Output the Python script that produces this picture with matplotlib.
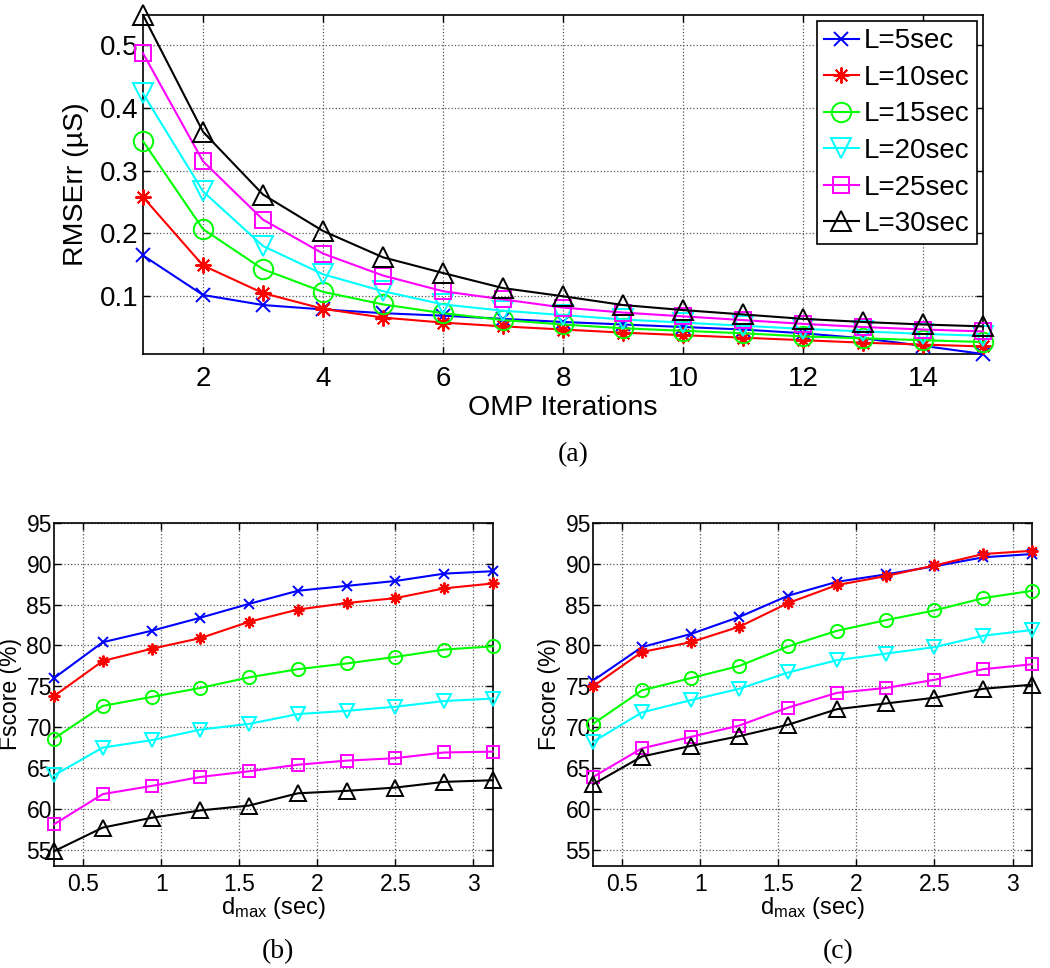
import matplotlib
matplotlib.use("Agg")
import matplotlib.pyplot as plt

plt.rcParams['font.family'] = ['Liberation Sans', 'DejaVu Sans']
plt.rcParams['mathtext.default'] = 'regular'

# ---- data ----
labels = ['L=5sec', 'L=10sec', 'L=15sec', 'L=20sec', 'L=25sec', 'L=30sec']
colors = ['#0000ff', '#ff0000', '#00ff00', '#00ffff', '#ff00ff', '#000000']
markers = ['x', (8, 2, 0), 'o', 'v', 's', '^']

omp_iter = list(range(1, 16))
rmse_l5 = [0.165, 0.102, 0.086, 0.079, 0.073, 0.069, 0.064, 0.059, 0.055, 0.051, 0.047, 0.041, 0.033, 0.021, 0.008]
rmse_l10 = [0.258, 0.149, 0.105, 0.080, 0.066, 0.058, 0.052, 0.047, 0.042, 0.038, 0.034, 0.030, 0.026, 0.023, 0.020]
rmse_l15 = [0.347, 0.207, 0.143, 0.107, 0.087, 0.073, 0.062, 0.055, 0.049, 0.045, 0.041, 0.036, 0.033, 0.030, 0.027]
rmse_l20 = [0.423, 0.267, 0.180, 0.135, 0.108, 0.087, 0.077, 0.070, 0.063, 0.058, 0.053, 0.048, 0.044, 0.040, 0.037]
rmse_l25 = [0.487, 0.315, 0.222, 0.168, 0.133, 0.108, 0.095, 0.082, 0.074, 0.068, 0.062, 0.056, 0.051, 0.047, 0.044]
rmse_l30 = [0.548, 0.362, 0.262, 0.204, 0.162, 0.137, 0.113, 0.100, 0.086, 0.078, 0.071, 0.064, 0.059, 0.055, 0.052]

dmax = [0.3125, 0.625, 0.9375, 1.25, 1.5625, 1.875, 2.1875, 2.5, 2.8125, 3.125]

fs_b_l5 = [76.0, 80.4, 81.8, 83.4, 85.1, 86.7, 87.3, 87.9, 88.8, 89.1]
fs_b_l10 = [73.8, 78.1, 79.6, 80.9, 82.9, 84.4, 85.2, 85.8, 87.0, 87.6]
fs_b_l15 = [68.6, 72.6, 73.7, 74.8, 76.1, 77.1, 77.8, 78.6, 79.5, 79.9]
fs_b_l20 = [64.1, 67.5, 68.4, 69.7, 70.4, 71.6, 72.0, 72.5, 73.2, 73.5]
fs_b_l25 = [58.1, 61.8, 62.8, 63.9, 64.6, 65.4, 65.9, 66.2, 66.9, 67.0]
fs_b_l30 = [54.8, 57.7, 58.9, 59.8, 60.4, 61.9, 62.2, 62.6, 63.3, 63.5]

fs_c_l5 = [75.7, 79.8, 81.4, 83.5, 86.1, 87.8, 88.7, 89.7, 90.8, 91.2]
fs_c_l10 = [75.0, 79.2, 80.4, 82.3, 85.2, 87.4, 88.5, 89.8, 91.2, 91.6]
fs_c_l15 = [70.4, 74.5, 76.0, 77.5, 79.9, 81.8, 83.1, 84.3, 85.8, 86.7]
fs_c_l20 = [68.2, 71.8, 73.3, 74.7, 76.7, 78.2, 79.0, 79.8, 81.2, 81.9]
fs_c_l25 = [63.9, 67.4, 68.8, 70.2, 72.4, 74.2, 74.8, 75.8, 77.1, 77.7]
fs_c_l30 = [63.0, 66.4, 67.7, 68.9, 70.3, 72.2, 72.9, 73.6, 74.7, 75.2]

rmse = [rmse_l5, rmse_l10, rmse_l15, rmse_l20, rmse_l25, rmse_l30]
fs_b = [fs_b_l5, fs_b_l10, fs_b_l15, fs_b_l20, fs_b_l25, fs_b_l30]
fs_c = [fs_c_l5, fs_c_l10, fs_c_l15, fs_c_l20, fs_c_l25, fs_c_l30]

# marker sizes per marker type (top / bottom)
ms_top = [9.5, 11.5, 14, 14, 11, 15]
ms_bot = [7, 8.5, 9.5, 10.5, 8, 12]


def style_axes(ax, fsize, xpad, ypad):
    ax.grid(True, linestyle=':', color='0.35', linewidth=0.9)
    ax.tick_params(direction='in', top=True, right=True, length=5,
                   width=1, labelsize=fsize)
    ax.tick_params(axis='x', pad=xpad)
    ax.tick_params(axis='y', pad=ypad)
    for sp in ax.spines.values():
        sp.set_linewidth(1.2)


def draw_lines(ax, x, series, sizes):
    for y, c, m, ms, lab in zip(series, colors, markers, sizes, labels):
        ax.plot(x, y, color=c, marker=m, markersize=ms, lw=1.5, mew=1.4,
                mfc='none', label=lab, clip_on=False, zorder=3)


fig = plt.figure(figsize=(10.5, 9.68), dpi=100)

# (a) RMSE vs OMP iterations
ax_a = fig.add_axes([0.1362, 0.6343, 0.8, 0.3502])
draw_lines(ax_a, omp_iter, rmse, ms_top)
ax_a.set_xlim(1, 15)
ax_a.set_ylim(min(rmse_l5), max(rmse_l30))
ax_a.set_xticks([2, 4, 6, 8, 10, 12, 14])
ax_a.set_yticks([0.1, 0.2, 0.3, 0.4, 0.5])
style_axes(ax_a, 20, 9, 3)
ax_a.set_xlabel('OMP Iterations', fontsize=20.5, labelpad=1.5)
ax_a.set_ylabel('RMSErr (\u00b5S)', fontsize=20.5, labelpad=8)
leg = ax_a.legend(loc='upper right', fontsize=20, numpoints=1, handlelength=1.26,
                  handletextpad=0.18, labelspacing=0.38, borderpad=0.25,
                  borderaxespad=0.23, fancybox=False, framealpha=1)
leg.get_frame().set_edgecolor('black')
leg.get_frame().set_linewidth(1.2)
fig.text(0.5457, 1 - 455 / 968, '(a)', family='Liberation Serif', fontsize=20,
         ha='center', va='center')

# (b) and (c) Fscore vs d_max
for left, series, tag, tx in [(0.0514, fs_b, '(b)', 278), (0.5648, fs_c, '(c)', 838)]:
    ax = fig.add_axes([left, 0.1054, 0.4181, 0.3543])
    draw_lines(ax, dmax, series, ms_bot)
    ax.set_xlim(dmax[0], dmax[-1])
    ax.set_ylim(53, 95)
    ax.set_xticks([0.5, 1, 1.5, 2, 2.5, 3])
    ax.set_xticklabels(['0.5', '1', '1.5', '2', '2.5', '3'])
    ax.set_yticks([55, 60, 65, 70, 75, 80, 85, 90, 95])
    style_axes(ax, 16.5, 5, 1.5)
    ax.set_xlabel('d$_{max}$ (sec)', fontsize=17, labelpad=-1)
    ax.set_ylabel('Fscore (%)', fontsize=16.5, labelpad=3)
    fig.text(tx / 1050, 1 - 952 / 968, tag, family='Liberation Serif', fontsize=20,
             ha='center', va='center')

fig.savefig('out.png', dpi=100)
